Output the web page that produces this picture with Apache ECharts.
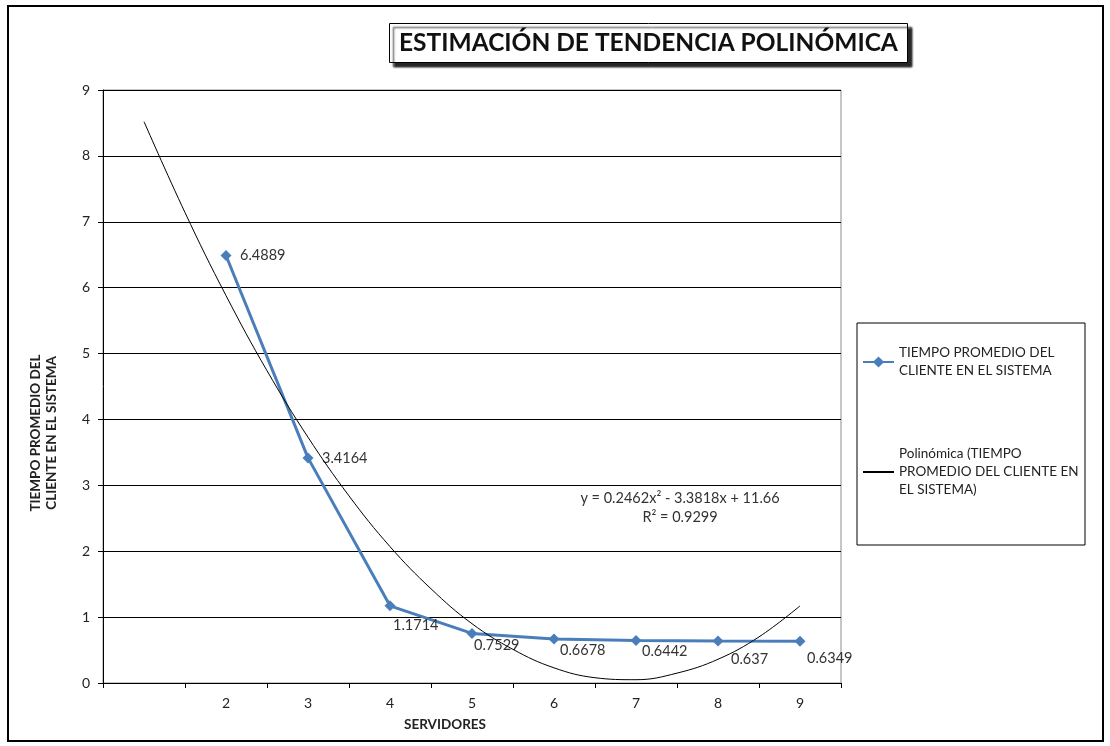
<!DOCTYPE html>
<html>
<head>
<meta charset="utf-8">
<script src="https://cdn.jsdelivr.net/npm/echarts@6/dist/echarts.min.js"></script>
<style>
html,body{margin:0;padding:0;background:#fff;}
#chart{width:1110px;height:746px;}
</style>
</head>
<body>
<div id="chart"></div>
<script>
// ---- data ----
const categories = ['', '2', '3', '4', '5', '6', '7', '8', '9'];
const tiempoPromedio = [null, 6.4889, 3.4164, 1.1714, 0.7529, 0.6678, 0.6442, 0.637, 0.6349];
// trendline (x = category position, 1 = first slot)
const trendX = [1, 1.5, 2, 2.5, 3, 3.5, 4, 4.5, 5, 5.5, 6, 6.5, 7, 7.5, 8, 8.5, 9];
const trendY = [8.52, 7.14, 5.88, 4.74, 3.73, 2.84, 2.07, 1.43, 0.90, 0.51, 0.23, 0.08, 0.05, 0.15, 0.36, 0.70, 1.17];
const yTickLabels = ['0', '1', '2', '3', '4', '5', '6', '7', '8', '9'];
const seriesName = 'TIEMPO PROMEDIO DEL CLIENTE EN EL SISTEMA';
const trendName = 'Polinómica (TIEMPO PROMEDIO DEL CLIENTE EN EL SISTEMA)';
const titleText = 'ESTIMACIÓN DE TENDENCIA POLINÓMICA';
const xTitle = 'SERVIDORES';
const yTitle = 'TIEMPO PROMEDIO DEL\nCLIENTE EN EL SISTEMA';
const equationText = 'y = 0.2462x² - 3.3818x + 11.66';
const r2Text = 'R² = 0.9299';

// ---- layout / style ----
const FONT = 'Lato';
const labelOffsets = [null, [14, 0], [14, 0], [3, 20], [2, 12], [6, 11], [6, 11], [13, 18], [7, 17]];

const chart = echarts.init(document.getElementById('chart'), null, {renderer: 'canvas'});

const mainData = tiempoPromedio.map((v, i) => {
  if (v === null) return '-';
  return {value: v, label: {offset: labelOffsets[i]}};
});
const trendData = trendX.map((x, i) => [x, trendY[i]]);

const option = {
  animation: false,
  backgroundColor: '#fff',
  textStyle: {fontFamily: FONT},
  title: {
    text: titleText,
    left: 389, top: 23,
    padding: [7, 10, 6, 10],
    backgroundColor: '#fff',
    borderColor: '#000',
    borderWidth: 1,
    shadowColor: 'rgba(0,0,0,0.85)',
    shadowBlur: 2,
    shadowOffsetX: 4,
    shadowOffsetY: 4,
    textStyle: {fontFamily: FONT, fontWeight: 'bold', fontSize: 24.5, lineHeight: 27, color: '#111'}
  },
  grid: {
    left: 103, top: 90, width: 738, height: 593,
    show: true, borderColor: '#8c8c8c', borderWidth: 1, backgroundColor: 'transparent'
  },
  legend: {
    orient: 'vertical',
    left: 857, top: 323,
    padding: [12, 4, 28, 5],
    itemGap: 38,
    itemWidth: 31,
    itemHeight: 14,
    borderColor: '#000',
    borderWidth: 1,
    backgroundColor: '#fff',
    selectedMode: false,
    data: [
      {name: seriesName, textStyle: {padding: [18, 0, 0, 0]}},
      {name: trendName, itemStyle: {opacity: 0}, textStyle: {padding: [36, 0, 0, 0]}}
    ],
    formatter: function (n) {
      if (n === seriesName) return 'TIEMPO PROMEDIO DEL\nCLIENTE EN EL SISTEMA';
      return 'Polinómica (TIEMPO\nPROMEDIO DEL CLIENTE EN\nEL SISTEMA)';
    },
    textStyle: {fontFamily: FONT, fontSize: 13.5, lineHeight: 18, color: '#222', width: 182}
  },
  xAxis: [
    {
      type: 'category',
      data: categories,
      boundaryGap: true,
      axisLine: {show: true, lineStyle: {color: '#000', width: 1}},
      axisTick: {show: true, length: 5, inside: false, lineStyle: {color: '#000'}},
      axisLabel: {margin: 13, fontFamily: FONT, fontSize: 14, color: '#222'},
      splitLine: {show: false}
    },
    {
      type: 'value',
      min: 0.5, max: 9.5,
      show: false,
      splitLine: {show: false}
    }
  ],
  yAxis: {
    type: 'value',
    min: 0, max: 9, interval: 1,
    axisLine: {show: true, lineStyle: {color: '#000', width: 1}},
    axisTick: {show: true, length: 5, lineStyle: {color: '#000'}},
    axisLabel: {margin: 13, fontFamily: FONT, fontSize: 14, color: '#222',
      formatter: function (v) { return yTickLabels[Math.round(v)]; }},
    splitLine: {show: true, lineStyle: {color: '#000', width: 1}}
  },
  series: [
    {
      name: seriesName,
      type: 'line',
      data: mainData,
      symbol: 'diamond',
      symbolSize: 11,
      itemStyle: {color: '#4A7EBB'},
      lineStyle: {color: '#4A7EBB', width: 3},
      connectNulls: false,
      label: {
        show: true,
        position: 'inside',
        align: 'left',
        verticalAlign: 'middle',
        fontFamily: FONT,
        fontSize: 14.5,
        color: '#333'
      },
      z: 3
    },
    {
      name: trendName,
      type: 'line',
      xAxisIndex: 1,
      data: trendData,
      smooth: 0.4,
      symbol: 'none',
      lineStyle: {color: '#000', width: 1},
      itemStyle: {color: '#000'},
      z: 4
    }
  ],
  graphic: [
    {
      type: 'rect',
      shape: {x: 8, y: 6, width: 1095, height: 735},
      style: {fill: 'none', stroke: '#000', lineWidth: 2},
      silent: true, z: -1
    },
    {
      type: 'text',
      x: 44, y: 433,
      rotation: Math.PI / 2,
      style: {text: yTitle, font: 'bold 13.5px ' + FONT, fill: '#222', align: 'center', verticalAlign: 'middle', lineHeight: 16},
      silent: true
    },
    {
      type: 'text',
      x: 445, y: 725,
      style: {text: xTitle, font: 'bold 13.5px ' + FONT, fill: '#222', align: 'center', verticalAlign: 'middle'},
      silent: true
    },
    {
      type: 'text',
      x: 680, y: 498,
      style: {text: equationText, font: '14.5px ' + FONT, fill: '#333', align: 'center', verticalAlign: 'middle'},
      silent: true
    },
    {
      type: 'text',
      x: 680, y: 517,
      style: {text: r2Text, font: '14.5px ' + FONT, fill: '#333', align: 'center', verticalAlign: 'middle'},
      silent: true
    }
  ]
};
chart.setOption(option);
</script>
</body>
</html>
